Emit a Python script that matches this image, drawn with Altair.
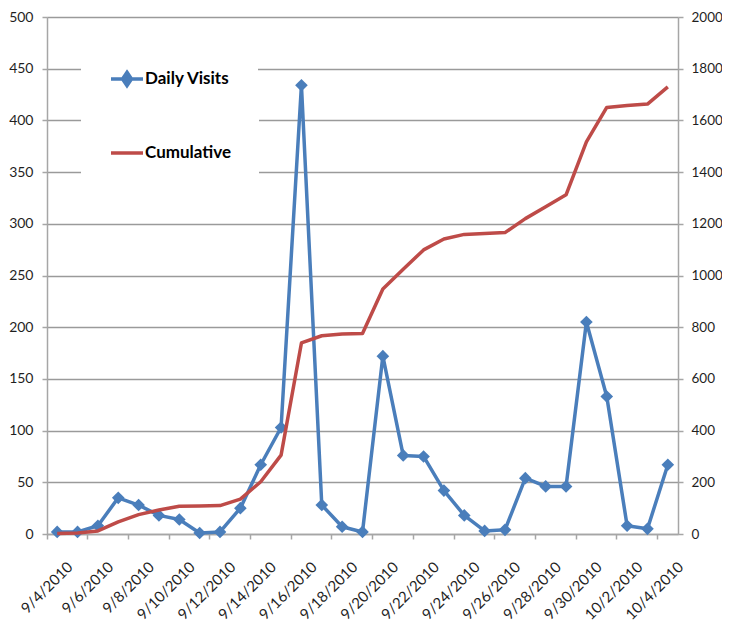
import altair as alt
import pandas as pd

dates = ["9/4/2010", "9/5/2010", "9/6/2010", "9/7/2010", "9/8/2010", "9/9/2010",
         "9/10/2010", "9/11/2010", "9/12/2010", "9/13/2010", "9/14/2010", "9/15/2010",
         "9/16/2010", "9/17/2010", "9/18/2010", "9/19/2010", "9/20/2010", "9/21/2010",
         "9/22/2010", "9/23/2010", "9/24/2010", "9/25/2010", "9/26/2010", "9/27/2010",
         "9/28/2010", "9/29/2010", "9/30/2010", "10/1/2010", "10/2/2010", "10/3/2010",
         "10/4/2010"]
daily = [2, 2, 8, 35, 28, 18, 14, 1, 2, 25, 67, 103, 434, 28, 7, 2, 172, 76, 75, 42,
         18, 3, 4, 54, 46, 46, 205, 133, 8, 5, 67]
cumulative = [2, 4, 12, 47, 75, 93, 107, 108, 110, 135, 202, 305, 739, 767, 774, 776,
              948, 1024, 1099, 1141, 1159, 1162, 1166, 1220, 1266, 1312, 1517, 1650,
              1658, 1663, 1730]
series = ["Daily Visits", "Cumulative"]
colors = ["#4A7EBB", "#BE4B48"]
left_ticks = list(range(0, 501, 50))
right_ticks = list(range(0, 2001, 200))

df = pd.DataFrame({"date": dates, "daily": daily, "cum": cumulative})

FONT = "Lato"
TXT = "#1f1f1f"
GRID = "#9a9a9a"
AX = "#a6a6a6"


def make_legend(y, symbol, fill):
    return alt.Legend(
        title=None, orient="none", legendX=34, legendY=y,
        fillColor="white", padding=28,
        symbolType=symbol, symbolSize=1024, symbolStrokeWidth=3.5,
        symbolFillColor=fill,
        labelFont=FONT, labelFontSize=17, labelFontWeight="bold", labelColor="black",
        labelOffset=0,
    )


x_enc = alt.X(
    "date:O", sort=dates,
    scale=alt.Scale(type="band", paddingInner=0, paddingOuter=0),
    axis=alt.Axis(values=dates[::2], bandPosition=0, labelAngle=-45, labelAlign="right",
                  labelBaseline="middle", labelOffset=13, labelPadding=25, tickSize=5,
                  grid=False, title=None, labelFont=FONT, labelFontSize=15,
                  labelColor=TXT, domainColor=AX, tickColor=AX,
                  domainWidth=1.5, tickWidth=1.5, labelOverlap=False),
)

daily_layer = alt.Chart(df).transform_calculate(series="'Daily Visits'").mark_line(
    strokeWidth=3.5, strokeJoin="round",
    point=alt.OverlayMarkDef(shape="diamond", size=160, filled=True, opacity=1),
).encode(
    x=x_enc,
    y=alt.Y("daily:Q", scale=alt.Scale(domain=[0, 500], nice=False),
            axis=alt.Axis(values=left_ticks, grid=True, title=None, tickSize=5,
                          labelPadding=9, labelFont=FONT, labelFontSize=14,
                          labelColor=TXT, gridColor=GRID, gridWidth=1.5,
                          domainColor=AX, tickColor=AX, format="d",
                          domainWidth=1.5, tickWidth=1.5)),
    color=alt.Color("series:N", scale=alt.Scale(domain=series[:1], range=colors[:1]),
                    legend=make_legend(16, "M-1,0H1M0,-0.42L0.28,0L0,0.42L-0.28,0Z",
                                       colors[0])),
)

cum_layer = alt.Chart(df).transform_calculate(series="'Cumulative'").mark_line(
    strokeWidth=3.5, strokeJoin="round",
).encode(
    x=x_enc,
    y=alt.Y("cum:Q", scale=alt.Scale(domain=[0, 2000], nice=False),
            axis=alt.Axis(orient="right", values=right_ticks, grid=False, title=None,
                          tickSize=5, labelPadding=8, labelFont=FONT, labelFontSize=13.5,
                          labelColor=TXT, domainColor=AX, tickColor=AX, format="d",
                          domainWidth=1.5, tickWidth=1.5)),
    stroke=alt.Stroke("series:N", scale=alt.Scale(domain=series[1:], range=colors[1:]),
                      legend=make_legend(90, "M-1,0H1", "transparent")),
)

chart = alt.layer(daily_layer, cum_layer).resolve_scale(y="independent").properties(
    width=631, height=517,
    autosize=alt.AutoSizeParams(type="none"),
    padding={"left": 39, "top": 9, "right": 44, "bottom": 88},
).configure_view(stroke=None).configure(background="white")

chart.save("out.html", embed_options={"renderer": "svg", "actions": False})
